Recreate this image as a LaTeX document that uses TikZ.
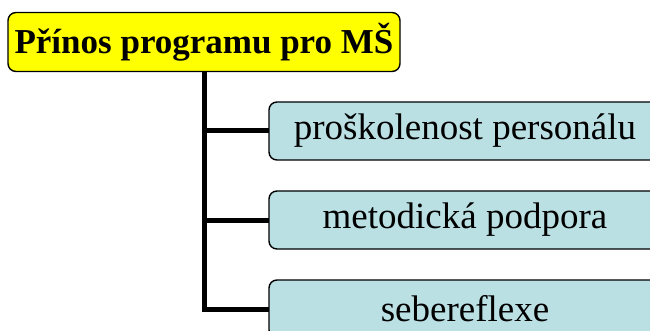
\documentclass[tikz,border=0pt]{standalone}
\usepackage{fontspec}
\setmainfont{Liberation Serif}
\usetikzlibrary{positioning}

\begin{document}
\begin{tikzpicture}[x=1pt, y=-1pt,
    inner sep=0pt, outer sep=0pt,%
    box/.style={draw=black, line width=1.4pt, rounded corners=8pt,
        minimum width=392pt, minimum height=58pt, align=center},
    head/.style={box, fill=headyellow, minimum height=59pt,
        font=\fontsize{35}{42}\selectfont\bfseries},
    item/.style={box, fill=itemblue, font=\fontsize{37}{44}\selectfont},
    branch/.style={line width=5pt, line join=miter, draw=black},
]
    % Colors
    \definecolor{headyellow}{RGB}{255,255,0}
    \definecolor{itemblue}{RGB}{186,224,228}

    % Frame
    \useasboundingbox (0,0) rectangle (650,331);

    % Title
    \node[head] (prinos) at (204,42) {Přínos programu pro MŠ};

    % Items
    \node[item] (skoleni) at (465,131) {proškolenost personálu};
    \node[item, below=31pt of skoleni] (podpora) {metodická podpora};
    \node[item, below=31pt of podpora] (reflexe) {sebereflexe};

    % Tree lines
    \draw[branch] (prinos.south) |- (reflexe.west);
    \foreach \n in {skoleni, podpora}
        \draw[branch] (prinos.south |- \n.west) -- (\n.west);
\end{tikzpicture}
\end{document}
